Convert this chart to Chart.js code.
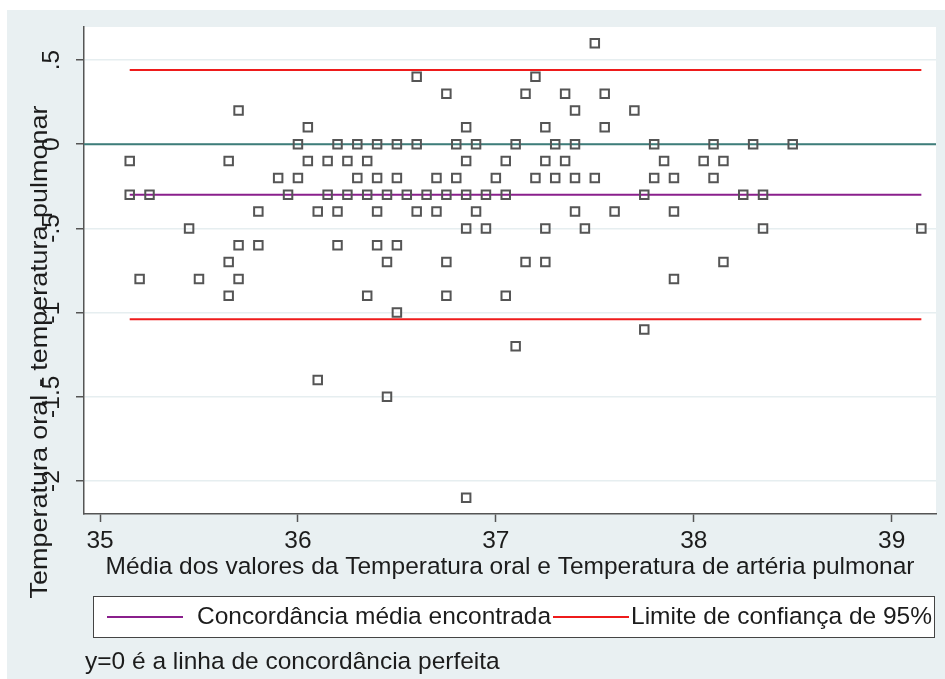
<!DOCTYPE html>
<html>
<head>
<meta charset="utf-8">
<script src="https://cdn.jsdelivr.net/npm/chart.js@4/dist/chart.umd.min.js"></script>
<style>
  html, body { margin: 0; padding: 0; background: #ffffff; }
  canvas { display: block; }
</style>
</head>
<body>
<canvas id="bland" width="945" height="679"></canvas>
<script>
// Bland-Altman: oral vs pulmonary artery temperature
// Mean of the two measurements (x) and their difference (y), one entry per patient reading
const meanX = [
  35.15, 35.15, 35.25, 35.70, 36.05, 36.00, 35.65, 36.05, 35.90, 36.00, 35.95, 35.80, 36.10,
  35.45, 35.70, 35.80, 35.65, 35.20, 35.50, 35.70, 35.65,
  36.60, 36.75, 36.85,
  36.20, 36.30, 36.40, 36.50, 36.60, 36.80, 36.90, 37.10,
  36.15, 36.25, 36.35, 36.85, 37.05,
  36.30, 36.40, 36.50, 36.70, 36.80, 37.00,
  36.15, 36.25, 36.35, 36.45, 36.55, 36.65, 36.75, 36.85, 36.95, 37.05,
  36.20, 36.40, 36.60, 36.70, 36.90,
  36.85, 36.95,
  36.20, 36.40, 36.50,
  36.45, 36.75,
  36.35, 36.75, 37.05,
  36.50, 37.10, 36.10, 36.45, 36.85,
  37.50, 37.20, 37.15, 37.35, 37.55, 37.40, 37.70, 37.25, 37.55,
  37.30, 37.40, 37.80, 38.10,
  37.25, 37.35, 37.85, 38.05, 38.15,
  37.20, 37.30, 37.40, 37.50, 37.80, 37.90, 38.10,
  37.75,
  37.40, 37.60, 37.90,
  37.25, 37.45,
  37.15, 37.25, 38.15,
  38.30, 38.50,
  38.25, 38.35,
  38.35, 39.15,
  37.75, 37.90
];
const diffY = [
  -0.1, -0.3, -0.3, 0.2, 0.1, 0.0, -0.1, -0.1, -0.2, -0.2, -0.3, -0.4, -0.4,
  -0.5, -0.6, -0.6, -0.7, -0.8, -0.8, -0.8, -0.9,
  0.4, 0.3, 0.1,
  0.0, 0.0, 0.0, 0.0, 0.0, 0.0, 0.0, 0.0,
  -0.1, -0.1, -0.1, -0.1, -0.1,
  -0.2, -0.2, -0.2, -0.2, -0.2, -0.2,
  -0.3, -0.3, -0.3, -0.3, -0.3, -0.3, -0.3, -0.3, -0.3, -0.3,
  -0.4, -0.4, -0.4, -0.4, -0.4,
  -0.5, -0.5,
  -0.6, -0.6, -0.6,
  -0.7, -0.7,
  -0.9, -0.9, -0.9,
  -1.0, -1.2, -1.4, -1.5, -2.1,
  0.6, 0.4, 0.3, 0.3, 0.3, 0.2, 0.2, 0.1, 0.1,
  0.0, 0.0, 0.0, 0.0,
  -0.1, -0.1, -0.1, -0.1, -0.1,
  -0.2, -0.2, -0.2, -0.2, -0.2, -0.2, -0.2,
  -0.3,
  -0.4, -0.4, -0.4,
  -0.5, -0.5,
  -0.7, -0.7, -0.7,
  0.0, 0.0,
  -0.3, -0.3,
  -0.5, -0.5,
  -1.1, -0.8
];

// Agreement statistics
const meanDiff = -0.30;
const upperLimit = 0.44;
const lowerLimit = -1.04;

// Axis ticks and labels
const xTicks = [35, 36, 37, 38, 39];
const yTicks = [-2, -1.5, -1, -0.5, 0, 0.5];
const yTickLabels = ['-2', '-1.5', '-1', '-.5', '0', '.5'];

// Texts
const xTitle = 'Média dos valores da Temperatura oral e Temperatura de artéria pulmonar';
const yTitle = 'Temperatura oral - temperatura pulmonar';
const legendLabels = ['Concordância média encontrada', 'Limite de confiança de 95%'];
const note = 'y=0 é a linha de concordância perfeita';

// Axis ranges
const X_MIN = 34.919, X_MAX = 39.224;
const Y_MIN = -2.196, Y_MAX = 0.696;

const FAMILY = '"Liberation Sans", Arial, Helvetica, sans-serif';
const TEXT = '#1c1c1c';
const AXIS = '#555555';
const PURPLE = '#8a1f8c';
const RED = '#ee1b1b';
const TEAL = '#3e7d7a';

const points = meanX.map((x, i) => ({ x: x, y: diffY[i] }));
const xLo = Math.min(...meanX);
const xHi = Math.max(...meanX);

const frame = {
  id: 'frame',
  beforeDraw(chart) {
    const c = chart.ctx, a = chart.chartArea;
    c.save();
    c.fillStyle = '#ffffff';
    c.fillRect(0, 0, chart.width, chart.height);
    c.fillStyle = '#e9f0f2';
    c.fillRect(7, 10, chart.width - 7, chart.height - 10);
    c.fillStyle = '#ffffff';
    c.fillRect(a.left, a.top, a.right - a.left, a.bottom - a.top);
    c.restore();
  },
  afterDraw(chart) {
    const c = chart.ctx, a = chart.chartArea;
    const ds = chart.data.datasets;
    c.save();
    c.fillStyle = TEXT;
    c.font = '24.5px ' + FAMILY;

    // x axis title
    c.textAlign = 'center';
    c.textBaseline = 'middle';
    c.fillText(xTitle, (a.left + a.right) / 2, 567);

    // y axis title
    c.save();
    c.translate(40, 352);
    c.rotate(-Math.PI / 2);
    c.scale(1.1, 1);
    c.fillText(yTitle, 0, 0);
    c.restore();

    // legend
    c.fillStyle = '#ffffff';
    c.fillRect(93, 596, 842, 41);
    c.strokeStyle = '#444444';
    c.lineWidth = 1;
    c.strokeRect(93.5, 596.5, 841, 41);
    c.textAlign = 'left';
    c.fillStyle = TEXT;
    const keyY = 617;
    c.lineWidth = 2;
    c.strokeStyle = ds[1].borderColor;
    c.beginPath(); c.moveTo(107, keyY); c.lineTo(183, keyY); c.stroke();
    c.fillText(ds[1].label, 197, keyY);
    c.strokeStyle = ds[2].borderColor;
    c.beginPath(); c.moveTo(553, keyY); c.lineTo(629, keyY); c.stroke();
    c.fillText(ds[2].label, 631, keyY);

    // note
    c.fillText(note, 85, 662);
    c.restore();
  }
};

new Chart(document.getElementById('bland'), {
  type: 'scatter',
  data: {
    datasets: [
      {
        label: 'Diferença',
        data: points,
        pointStyle: 'rect',
        pointRadius: 6,
        pointHoverRadius: 6,
        borderWidth: 2,
        borderColor: '#555555',
        backgroundColor: 'rgba(0,0,0,0)'
      },
      {
        label: legendLabels[0],
        data: [{ x: xLo, y: meanDiff }, { x: xHi, y: meanDiff }],
        showLine: true, pointRadius: 0, borderWidth: 2, borderColor: PURPLE
      },
      {
        label: legendLabels[1],
        data: [{ x: xLo, y: upperLimit }, { x: xHi, y: upperLimit }],
        showLine: true, pointRadius: 0, borderWidth: 2, borderColor: RED
      },
      {
        label: legendLabels[1],
        data: [{ x: xLo, y: lowerLimit }, { x: xHi, y: lowerLimit }],
        showLine: true, pointRadius: 0, borderWidth: 2, borderColor: RED
      },
      {
        label: 'y=0',
        data: [{ x: X_MIN, y: 0 }, { x: X_MAX, y: 0 }],
        showLine: true, pointRadius: 0, borderWidth: 2, borderColor: TEAL
      }
    ]
  },
  options: {
    responsive: false,
    animation: false,
    devicePixelRatio: 1,
    layout: { padding: { top: 27, right: 9, left: 0, bottom: 0 } },
    plugins: { legend: { display: false }, tooltip: { enabled: false } },
    scales: {
      x: {
        type: 'linear',
        position: 'bottom',
        min: X_MIN,
        max: X_MAX,
        afterFit(s) { s.height = 165; },
        afterBuildTicks(s) { s.ticks = xTicks.map(v => ({ value: v })); },
        grid: { drawOnChartArea: false, drawTicks: true, tickLength: 8, tickColor: AXIS, tickWidth: 1.5 },
        border: { display: true, color: AXIS, width: 1.5 },
        ticks: {
          font: { family: FAMILY, size: 24.5, lineHeight: 1.2 },
          color: TEXT, padding: 5, maxRotation: 0, minRotation: 0, autoSkip: false,
          callback: v => String(v)
        }
      },
      y: {
        type: 'linear',
        position: 'left',
        min: Y_MIN,
        max: Y_MAX,
        afterFit(s) { s.width = 84; },
        afterBuildTicks(s) { s.ticks = yTicks.map(v => ({ value: v })); },
        grid: { color: '#e6eef0', lineWidth: 1.5, drawTicks: true, tickLength: 8, tickColor: AXIS, tickWidth: 1.5 },
        border: { display: true, color: AXIS, width: 1.5 },
        ticks: {
          font: { family: FAMILY, size: 24.5, lineHeight: 1.2 },
          color: TEXT, padding: 3, minRotation: 90, maxRotation: 90, crossAlign: 'center', autoSkip: false,
          callback: v => yTickLabels[yTicks.indexOf(v)]
        }
      }
    }
  },
  plugins: [frame]
});
</script>
</body>
</html>
